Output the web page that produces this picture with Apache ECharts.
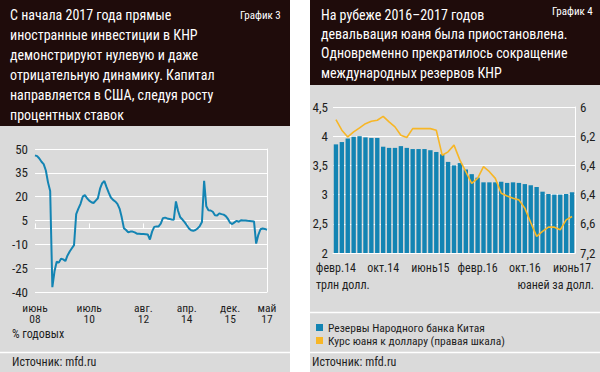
<!DOCTYPE html>
<html><head><meta charset="utf-8">
<script src="https://cdn.jsdelivr.net/npm/echarts@6/dist/echarts.min.js"></script>
<style>html,body{margin:0;padding:0;background:#fff}#c{width:600px;height:372px}</style>
</head><body><div id="c"></div>
<script>
// ---------- Chart 3: FDI into China, % y/y ----------
const fdiValues = [46,45.5,44,42,40.5,36.5,29,23.5,-37,-27,
  -21,-21.5,-19,-19.5,-20.5,-17,-14.5,-12.5,-10.5,9,
  12.5,15.5,20,21,19,17.5,16.5,16,17.5,19,
  25,28.5,29.8,26,22.5,19.5,18,17,15.5,12.5,
  7,0.2,-1,-2.5,-2,-2,-2.5,-3.3,-3.3,-3.5,
  -3.5,-3.6,-3.8,-7,-2,1,1.3,1.3,3,6.5,
  6.8,6.3,6,5.6,5.4,17,11,7,5.6,4,
  2,0,-1.2,-1.5,-1,0,1.5,4,30,14,
  11.5,11.3,10.5,8.3,8.2,9.5,9,8.7,7.8,6,
  3.5,2.8,3.8,4.8,4.2,5.2,5,5,4.8,4.7,
  4.6,4.4,-9.5,-4,-0.5,0,-0.3,-0.8];
const fdiTickIdx = [0,25,50,70,90,107];
const fdiTickLabels = ['июнь\n08','июль\n10','авг.\n12','апр.\n14','дек.\n15','май\n17'];

// ---------- Chart 4: reserves & yuan ----------
const reserves = [3.86,3.90,3.96,3.99,4.00,3.98,3.97,3.97,3.82,3.80,
  3.80,3.83,3.80,3.78,3.78,3.78,3.76,3.73,3.69,3.56,
  3.50,3.54,3.43,3.35,3.29,3.21,3.21,3.21,3.22,3.20,
  3.21,3.20,3.18,3.16,3.13,3.05,3.01,3.00,3.00,3.01,3.04];
const yuanRate = [6.086,6.159,6.205,6.170,6.143,6.114,6.098,6.091,6.064,6.102,
  6.136,6.193,6.209,6.148,6.148,6.148,6.148,6.159,6.330,6.307,
  6.261,6.364,6.443,6.523,6.489,6.409,6.443,6.489,6.591,6.609,
  6.625,6.636,6.693,6.791,6.886,6.852,6.823,6.823,6.841,6.773,6.750];
const resTickLabels = ['февр.14','окт.14','июнь15','февр.16','окт.16','июнь17'];
const yuanTickLabels = ['6','6,2','6,4','6,4','6,6','7,2'];

// categories
const ruMonths = ['янв.','февр.','март','апр.','май','июнь','июль','авг.','сент.','окт.','нояб.','дек.'];
const fdiCats = []; {let m=5,y=2008; for(let i=0;i<fdiValues.length;i++){fdiCats.push(ruMonths[m]+String(y).slice(2)); m++; if(m>11){m=0;y++;}}}
const resCats = []; {let m=1,y=2014; for(let i=0;i<reserves.length;i++){resCats.push(ruMonths[m]+String(y).slice(2)); m++; if(m>11){m=0;y++;}}}

const FONT = "'Roboto Condensed', sans-serif";
const GRAY = '#dadada', DARK = '#1f0c0b', BLUE = '#1384b3', YEL = '#f7b626', TXT = '#1e1e1e';

const chart = echarts.init(document.getElementById('c'), null, {renderer:'svg'});
const comma = v => String(v).replace('.', ',');

chart.setOption({
  backgroundColor: '#ffffff',
  animation: false,
  textStyle: {fontFamily: FONT},
  graphic: [
    {type:'rect', z:-100, shape:{x:0,y:0,width:290,height:372}, style:{fill:GRAY}},
    {type:'rect', z:-100, shape:{x:310,y:0,width:290,height:372}, style:{fill:GRAY}},
    {type:'rect', z:-99, shape:{x:0,y:0,width:290,height:126}, style:{fill:DARK}},
    {type:'rect', z:-99, shape:{x:310,y:0,width:290,height:85}, style:{fill:DARK}},
    {type:'line', z:-98, shape:{x1:0,y1:352.5,x2:290,y2:352.5}, style:{stroke:'#fff',lineWidth:1.5}},
    {type:'line', z:-98, shape:{x1:310,y1:312.5,x2:600,y2:312.5}, style:{stroke:'#fff',lineWidth:1.5}},
    {type:'line', z:-98, shape:{x1:310,y1:352.5,x2:600,y2:352.5}, style:{stroke:'#fff',lineWidth:1.5}},
    {type:'text', x:10, y:5, style:{text:'С начала 2017 года прямые\nиностранные инвестиции в КНР\nдемонстрируют нулевую и даже\nотрицательную динамику. Капитал\nнаправляется в США, следуя росту\nпроцентных ставок', fill:'#fff', font:"14px 'Roboto Condensed'", lineHeight:20}},
    {type:'text', x:240, y:10, style:{text:'График 3', fill:'#fff', font:"11px 'Roboto Condensed'"}},
    {type:'text', x:321, y:5, style:{text:'На рубеже 2016–2017 годов\nдевальвация юаня была приостановлена.\nОдновременно прекратилось сокращение\nмеждународных резервов КНР', fill:'#fff', font:"14px 'Roboto Condensed'", lineHeight:19.3}},
    {type:'text', x:552, y:6, style:{text:'График 4', fill:'#fff', font:"11px 'Roboto Condensed'"}},
    {type:'text', x:12, y:328, style:{text:'% годовых', fill:TXT, font:"12px 'Roboto Condensed'"}},
    {type:'text', x:12, y:356, style:{text:'Источник: mfd.ru', fill:TXT, font:"12px 'Roboto Condensed'"}},
    {type:'text', x:316, y:279, style:{text:'трлн долл.', fill:TXT, font:"12px 'Roboto Condensed'"}},
    {type:'text', x:594, y:279, style:{text:'юаней за долл.', fill:TXT, font:"12px 'Roboto Condensed'", align:'right'}},
    {type:'text', x:312, y:356, style:{text:'Источник: mfd.ru', fill:TXT, font:"12px 'Roboto Condensed'"}}
  ],
  legend: {
    left: 316, top: 321, orient: 'vertical', itemWidth: 7, itemHeight: 7, itemGap: 0, padding: 0,
    textStyle: {color: TXT, fontSize: 11.5, lineHeight: 13, fontFamily: FONT},
    data: [{name:'Резервы Народного банка Китая', icon:'rect'},
           {name:'Курс юаня к доллару (правая шкала)', icon:'rect'}]
  },
  grid: [
    {left:35, right:333, top:149, bottom:80},
    {left:333, right:25, top:107, bottom:119}
  ],
  xAxis: [
    {type:'category', gridIndex:0, data:fdiCats, boundaryGap:false,
     axisLine:{lineStyle:{color:'#fff', width:1}},
     axisTick:{show:true, inside:true, length:5, lineStyle:{color:'#fff'}, interval:(i)=>fdiTickIdx.includes(i)},
     axisLabel:{interval:(i)=>fdiTickIdx.includes(i), color:TXT, fontSize:11.5, lineHeight:11.5, margin:10,
       formatter:(v,i)=>fdiTickLabels[fdiTickIdx.indexOf(i)]}},
    {type:'category', gridIndex:1, data:resCats,
     axisLine:{lineStyle:{color:'#fff'}}, axisTick:{show:false},
     axisLabel:{interval:7, color:TXT, fontSize:12, margin:9,
       formatter:(v,i)=>resTickLabels[Math.round(i/8)]}}
  ],
  yAxis: [
    {type:'value', gridIndex:0, min:-40, max:50, interval:15,
     axisLine:{show:false}, axisTick:{show:false},
     splitLine:{lineStyle:{color:'#fff', width:1}},
     axisLabel:{color:TXT, fontSize:13, margin:7}},
    {type:'value', gridIndex:0, position:'right', min:-40, max:50, interval:15,
     axisLine:{show:true, lineStyle:{color:'#fff'}}, axisTick:{show:false}, axisLabel:{show:false}, splitLine:{show:false}},
    {type:'value', gridIndex:1, min:2, max:4.5, interval:0.5,
     axisLine:{show:false}, axisTick:{show:false},
     splitLine:{lineStyle:{color:'#fff', width:1}},
     axisLabel:{color:TXT, fontSize:13, margin:5, formatter:comma}},
    {type:'value', gridIndex:1, position:'right', min:6, max:7, interval:0.2, inverse:true,
     axisLine:{show:true, lineStyle:{color:'#fff'}}, axisTick:{show:false}, splitLine:{show:false},
     axisLabel:{color:TXT, fontSize:13, margin:5, formatter:(v)=>yuanTickLabels[Math.round((v-6)/0.2)]}}
  ],
  series: [
    {type:'line', name:'ПИИ', xAxisIndex:0, yAxisIndex:0, data:fdiValues, showSymbol:false,
     lineStyle:{color:BLUE, width:2}, itemStyle:{color:BLUE}, z:3},
    {type:'bar', name:'Резервы Народного банка Китая', xAxisIndex:1, yAxisIndex:2, data:reserves,
     barCategoryGap:'26%', itemStyle:{color:BLUE}},
    {type:'line', name:'Курс юаня к доллару (правая шкала)', xAxisIndex:1, yAxisIndex:3, data:yuanRate,
     showSymbol:false, lineStyle:{color:YEL, width:1.6}, itemStyle:{color:YEL}, z:4}
  ]
});
</script></body></html>
